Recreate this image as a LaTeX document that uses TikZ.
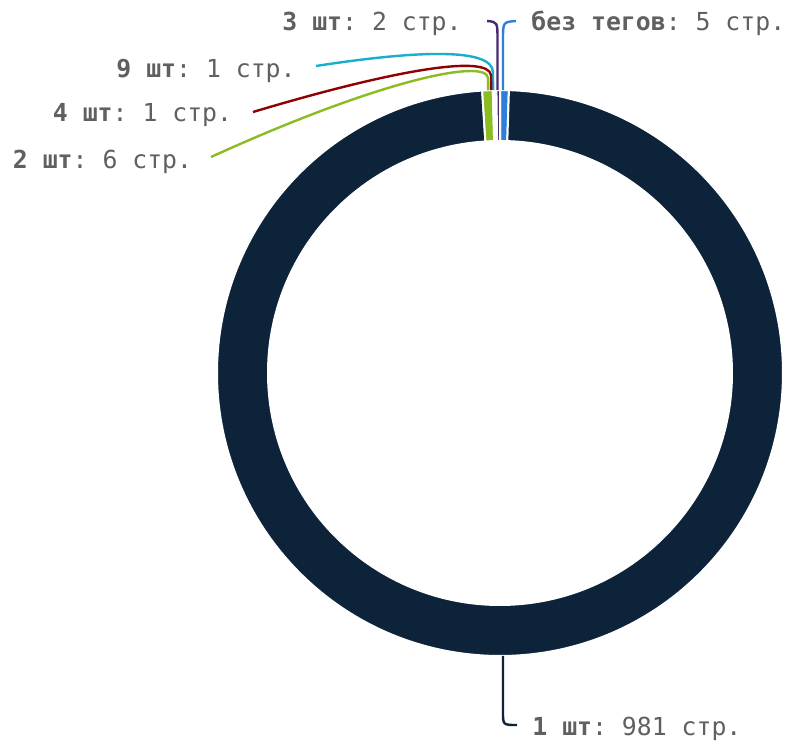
\documentclass[tikz,border=0pt]{standalone}
\usepackage{fontspec}
\setmonofont{DejaVu Sans Mono}
\usepackage{tikz}
\usetikzlibrary{positioning}

\definecolor{cnone}{HTML}{2F7ED8}
\definecolor{cone}{HTML}{0D233A}
\definecolor{ctwo}{HTML}{8BBC21}
\definecolor{cfour}{HTML}{910000}
\definecolor{cnine}{HTML}{1AADCE}
\definecolor{cthree}{HTML}{492970}
\definecolor{labelgray}{HTML}{606060}

\begin{document}
\begin{tikzpicture}[x=0.5pt,y=0.5pt,
                    ring part/.style={draw=white,line width=1pt},
                    conn/.style={line width=1.2pt},
                    label node/.style={inner sep=0pt,text=labelgray,font=\ttfamily\fontsize{12.4}{15}\selectfont}]

  \fill[white] (0,0) rectangle (789,745);
  \useasboundingbox (0,0) rectangle (789,745);

  % ring, clockwise from the top
  \begin{scope}[shift={(500,372)}]
    \foreach \a/\b/\col in {90/88.193/cnone, 88.193/-266.386/cone, -266.386/-268.554/ctwo,
                            -268.554/-268.916/cfour, -268.916/-269.277/cnine, -269.277/-270/cthree}
      \filldraw[ring part,fill=\col] (\a:283) arc[start angle=\a,end angle=\b,radius=283]
        -- (\b:232) arc[start angle=\b,end angle=\a,radius=232] -- cycle;
    \coordinate (sB) at (89.4:283);
    \coordinate (s3) at (90.5:283);
    \coordinate (s9) at (91.4:283);
    \coordinate (s4) at (91.8:283);
    \coordinate (s2) at (92.4:283);
    \coordinate (s1) at (270.6:283);
  \end{scope}

  \node[label node,anchor=base west] (lB) at (531,714.5) {\textbf{без тегов}: 5 стр.};
  \node[label node,anchor=base east] (l3) at (462,714.5) {\textbf{3 шт}: 2 стр.};
  \node[label node,anchor=base east] (l9) at (296,667.5) {\textbf{9 шт}: 1 стр.};
  \node[label node,anchor=base east] (l4) at (232.5,623) {\textbf{4 шт}: 1 стр.};
  \node[label node,anchor=base east] (l2) at (192.5,576.7) {\textbf{2 шт}: 6 стр.};
  \node[label node,anchor=base west] (l1) at (532,9) {\textbf{1 шт}: 981 стр.};

  \coordinate (eB) at ([shift={(-15,9.5)}]lB.base west);
  \coordinate (e3) at ([shift={(25,9.5)}]l3.base east);
  \coordinate (e9) at ([shift={(20,11.5)}]l9.base east);
  \coordinate (e4) at ([shift={(20.5,10)}]l4.base east);
  \coordinate (e2) at ([shift={(18.5,11.3)}]l2.base east);
  \coordinate (e1) at ([shift={(-15,11)}]l1.base west);

  % connectors
  \draw[conn,cnone]  (eB) .. controls (503,723) .. (503,705) -- (sB);
  \draw[conn,cthree] (e3) .. controls (497.5,723) .. (497.5,705) -- (s3);
  \draw[conn,cnine]  (e9) .. controls (420,695) and (492,697) .. (493,673) -- (s9);
  \draw[conn,cfour]  (e4) .. controls (400,677) and (488,690) .. (491,670) -- (s4);
  \draw[conn,ctwo]   (e2) .. controls (380,665) and (486,687) .. (488,667) -- (s2);
  \draw[conn,cone]   (s1) -- (503,33) .. controls (503,20) .. (e1);
\end{tikzpicture}
\end{document}
